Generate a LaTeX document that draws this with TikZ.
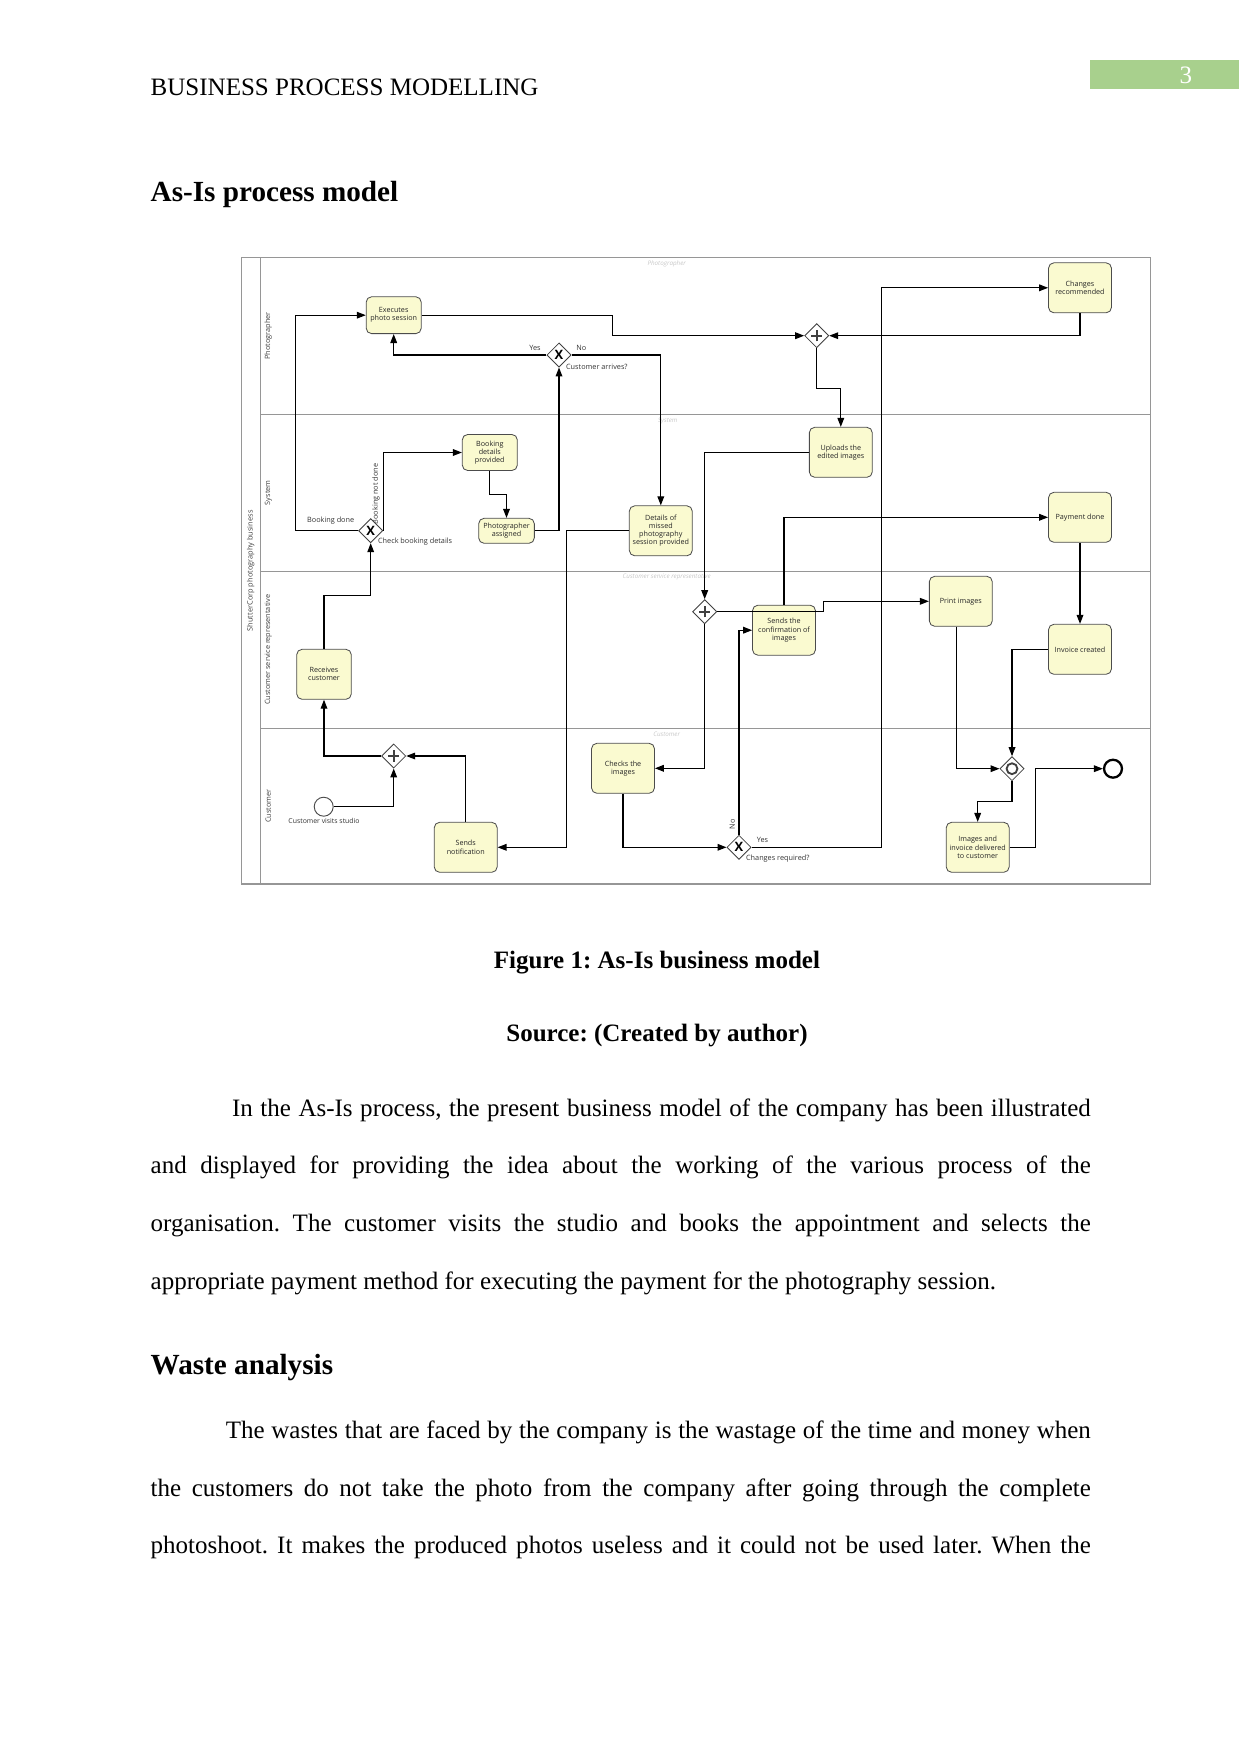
\documentclass[tikz,border=0pt]{standalone}
\usepackage{fontspec}
\setmainfont{Liberation Serif}
\newfontfamily\bpmnfont{Open Sans}
\usepackage{tikz}
\usetikzlibrary{arrows.meta,shapes.geometric}
\definecolor{cTask}{RGB}{250,250,208}
\definecolor{cLane}{RGB}{150,150,150}
\definecolor{cPage}{RGB}{168,208,141}
\newcommand{\bpmntext}{\bpmnfont\fontsize{3.45}{3.9}\selectfont}
\newcommand{\bpmnsmall}{\bpmnfont\fontsize{3.5}{3.9}\selectfont}
\newcommand{\bodytext}{\fontsize{12}{27.6}\selectfont}
\newcommand{\wordspace}{\spaceskip=3pt plus 3pt minus 1pt\relax}
\frenchspacing

\begin{document}
\frenchspacing
\begin{tikzpicture}[x=0.4797pt, y=-0.4797pt,
  task/.style={draw=black!70, line width=0.4pt, rounded corners=2.6pt, fill=cTask,
               font=\bpmntext, text=black!85, align=center,
               minimum width=30.2pt, minimum height=24pt, inner sep=0.5pt},
  gate/.style={diamond, draw=black!75, line width=0.4pt, fill=white,
               minimum size=11.6pt, inner sep=0pt},
  xgate/.style={gate, font=\bpmnfont\bfseries\fontsize{6.2}{6.2}\selectfont},
  pgate/.style={gate, path picture={
      \draw[line width=0.8pt] ([xshift=-2.7pt]path picture bounding box.center)
        -- ([xshift=2.7pt]path picture bounding box.center);
      \draw[line width=0.8pt] ([yshift=-2.7pt]path picture bounding box.center)
        -- ([yshift=2.7pt]path picture bounding box.center);}},
  ogate/.style={gate, path picture={
      \draw[line width=0.9pt] (path picture bounding box.center) circle (2.6pt);}},
  startev/.style={circle, draw=black!70, line width=0.45pt, fill=white, minimum size=9.1pt, inner sep=0pt},
  endev/.style={circle, draw=black, line width=1.1pt, fill=white, minimum size=8.6pt, inner sep=0pt},
  flow/.style={-{Triangle[length=4.3pt,width=3.2pt]}, line width=0.55pt},
  lbl/.style={font=\bpmnsmall, text=black!80, inner sep=0pt},
  lanename/.style={font=\bpmnfont\fontsize{3.5}{3.5}\selectfont, text=black!75, rotate=90, inner sep=0pt},
  ghost/.style={font=\bpmnfont\itshape\fontsize{3}{3}\selectfont, text=black!22, inner sep=0pt},
  page/.style={inner sep=0pt, font=\bodytext}]
\useasboundingbox (0,0) rectangle (1241,1754);
\fill[cPage] (1090,60) rectangle (1239.3,89);
\node[page, text=white, anchor=base east] (pgno) at (1192.5,83.3) {3};
\node[page, anchor=base west] (head) at (150.3,96) {BUSINESS PROCESS MODELLING};
\node[page, font=\fontsize{14}{16}\selectfont\bfseries, anchor=base west] (sec1) at (150.3,201.7) {As-Is process model};

\draw[draw=cLane, line width=0.6pt] (241.7,257.7) rectangle (1150.3,884);
\draw[draw=cLane, line width=0.4pt] (260.7,257.7) -- (260.7,884);
\draw[draw=cLane, line width=0.4pt] (260.7,414.3) -- (1150.3,414.3);
\draw[draw=cLane, line width=0.4pt] (260.7,571.3) -- (1150.3,571.3);
\draw[draw=cLane, line width=0.4pt] (260.7,728.3) -- (1150.3,728.3);
\node[lanename, font=\bpmnfont\fontsize{3.55}{3.55}\selectfont] (pool) at (250.6,570.8) {ShutterCorp photography business};
\node[lanename] (l1) at (268.3,336) {Photographer};
\node[lanename] (l2) at (268.3,492.8) {System};
\node[lanename] (l3) at (268.3,649.8) {Customer service representative};
\node[lanename] (l4) at (268.3,806.2) {Customer};
\node[ghost] (g1) at (666.7,264) {Photographer};
\node[ghost] (g2) at (667.7,420.7) {System};
\node[ghost] (g3) at (666.7,577.3) {Customer service representative};
\node[ghost] (g4) at (666.7,734.7) {Customer};

\node[lbl] (tdone) at (330.7,520.3) {Booking done};
\node[lbl, rotate=90] (tnot) at (376,494) {Booking not done};
\node[lbl, anchor=west] (tcbd) at (377.7,542) {Check booking details};
\node[lbl] (tyes1) at (535,347.7) {Yes};
\node[lbl] (tno1) at (581.3,347.7) {No};
\node[lbl, anchor=west] (tca) at (565.7,366.7) {Customer arrives?};
\node[lbl, font=\bpmnfont\fontsize{3.3}{3.6}\selectfont] (tse) at (324,821.3) {Customer visits studio};
\node[lbl, rotate=90] (tno2) at (732.3,824.3) {No};
\node[lbl] (tyes2) at (762.5,840) {Yes};
\node[lbl, anchor=west] (tchg) at (745.7,859) {Changes required?};

\node[task, minimum width=26.4pt, minimum height=17.7pt] (exec) at (393.7,315.2) {Executes\\photo session};
\node[task, minimum width=26.4pt, minimum height=17.3pt] (bdp) at (489.8,452.5) {Booking\\details\\provided};
\node[task, minimum width=26.7pt, minimum height=12pt] (pa) at (506.5,530.8) {Photographer\\assigned};
\node[task] (dms) at (660.8,530.8) {Details of\\missed\\photography\\session provided};
\node[task] (cr) at (1080,287.8) {Changes\\recommended};
\node[task] (uei) at (840.8,452.3) {Uploads the\\edited images};
\node[task] (pd) at (1080,517.3) {Payment done};
\node[task] (sc) at (784,630.2) {Sends the\\confirmation of\\images};
\node[task] (pi) at (960.8,601.3) {Print images};
\node[task] (ic) at (1080,649.3) {Invoice created};
\node[task, minimum width=26.2pt] (rc) at (324,674.3) {Receives\\customer};
\node[task] (sn) at (465.7,847.3) {Sends\\notification};
\node[task] (cti) at (623,768.3) {Checks the\\images};
\node[task] (idc) at (977.7,847.3) {Images and\\invoice delivered\\to customer};
\node[xgate] (cbd) at (370.7,530.7) {X};
\node[xgate] (ca) at (559,355) {X};
\node[xgate] (chg) at (739,847.3) {X};
\node[pgate] (pg1) at (816.7,335.7) {};
\node[pgate] (pg2) at (704.7,611.7) {};
\node[pgate] (pg3) at (393.7,756) {};
\node[ogate] (og) at (1012,768.7) {};
\node[startev] (se) at (323.7,806.7) {};
\node[endev] (ee) at (1113,768.7) {};

\draw[flow] (se.east) -| (pg3.south);
\draw[flow] (sn.north) |- (pg3.east);
\draw[flow] (pg3.west) -| (rc.south);
\draw[flow] (rc.north) -- ++(0,-53.3) -| (cbd.south);
\draw[flow] (cbd.west) -- ++(-63,0) |- (exec.west);
\draw[flow] (cbd.east) |- (bdp.west);
\draw[flow] (bdp.south) -- ++(0,23.8) -| (pa.north);
\draw[flow] (pa.east) -| (ca.south);
\draw[flow] (ca.west) -| (exec.south);
\draw[flow] (ca.east) -| (dms.north);
\draw[flow] (exec.east) -- ++(191,0) |- (pg1.west);
\draw[flow] (cr.south) |- (pg1.east);
\draw[flow] (pg1.south) -- ++(0,40) -| (uei.north);
\draw[flow] (uei.west) -| (pg2.north);
\draw[flow] (dms.west) -- ++(-62,0) |- (sn.east);
\draw[flow] (pg2.east) -- ++(106.6,0) |- (pi.west);
\draw[flow] (pg2.south) |- (cti.east);
\draw[flow] (cti.south) |- (chg.west);
\draw[flow] (chg.north) |- (sc.west);
\draw[flow] (chg.east) -- ++(130,0) |- (cr.west);
\draw[flow] (sc.north) |- (pd.west);
\draw[flow] (pd.south) -- (ic.north);
\draw[flow] (ic.west) -| (og.north);
\draw[flow] ([xshift=-2pt]pi.south) |- (og.west);
\draw[flow] (og.south) -- ++(0,20) -| (idc.north);
\draw[flow] (idc.east) -- ++(25.7,0) |- (ee.west);

\node[page, font=\bodytext\bfseries, anchor=base] (fig) at (657,968.3) {Figure 1: As-Is business model};
\node[page, font=\bodytext\bfseries, anchor=base] (src) at (657,1041.7) {Source: (Created by author)};
\node[page, anchor=north west, text width=451pt, align=left] (para1) at (150.3,1095.15)
  {\wordspace\rule{0pt}{10pt}\hspace*{39pt}\makebox[412pt][s]{In the As-Is process, the present business model of the company has been illustrated}\\
   \makebox[451pt][s]{and displayed for providing the idea about the working of the various process of the}\\
   \makebox[451pt][s]{organisation. The customer visits the studio and books the appointment and selects the}\\
   appropriate payment method for executing the payment for the photography session.};
\node[page, font=\fontsize{14}{16}\selectfont\bfseries, anchor=base west] (sec2) at (150.3,1374.3) {Waste analysis};
\node[page, anchor=north west, text width=451pt, align=left] (para2) at (150.3,1417.45)
  {\wordspace\rule{0pt}{10pt}\hspace*{36pt}\makebox[415pt][s]{The wastes that are faced by the company is the wastage of the time and money when}\\
   \makebox[451pt][s]{the customers do not take the photo from the company after going through the complete}\\
   \makebox[451pt][s]{photoshoot. It makes the produced photos useless and it could not be used later. When the}};
\end{tikzpicture}
\end{document}
